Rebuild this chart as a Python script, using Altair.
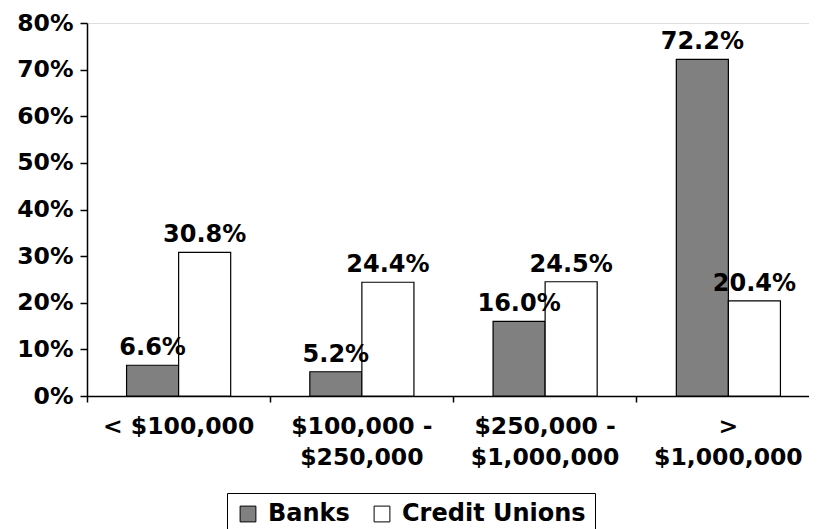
import altair as alt
import pandas as pd

categories = ["< $100,000", "$100,000 -|$250,000", "$250,000 -|$1,000,000", ">|$1,000,000"]
series = ["Banks", "Credit Unions"]
banks = [6.6, 5.2, 16.0, 72.2]
credit_unions = [30.8, 24.4, 24.5, 20.4]
y_ticks = [0, 10, 20, 30, 40, 50, 60, 70, 80]

rows = []
for c, b, cu in zip(categories, banks, credit_unions):
    rows.append({"cat": c, "series": "Banks", "value": b})
    rows.append({"cat": c, "series": "Credit Unions", "value": cu})
df = pd.DataFrame(rows)

FONT = "DejaVu Sans"

x_enc = alt.X("cat:N", sort=categories,
              scale=alt.Scale(paddingInner=0, paddingOuter=0, range=[0, 733]),
              axis=alt.Axis(title=None, labelAngle=0, bandPosition=0,
                            labelExpr="split(datum.label, '|')",
                            labelFontSize=23.5, labelFontWeight="bold", labelFont=FONT,
                            labelColor="black", labelLineHeight=31, labelPadding=12,
                            tickSize=6, tickColor="black", tickWidth=1.5,
                            domainColor="black", domainWidth=1.5, grid=False,
                            labelBaseline="top"))
xo_enc = alt.XOffset("series:N", sort=series,
                     scale=alt.Scale(paddingInner=0, paddingOuter=0.76))
y_enc = alt.Y("value:Q", scale=alt.Scale(domain=[0, 80], nice=False),
              axis=alt.Axis(title=None, values=y_ticks, labelExpr="datum.value + '%'",
                            labelFontSize=23.5, labelFontWeight="bold", labelFont=FONT,
                            labelColor="black", labelPadding=7,
                            tickSize=7, tickColor="black", tickWidth=1.5,
                            domainColor="black", domainWidth=1.5, grid=False))

bars = alt.Chart(df).mark_bar(stroke="black", strokeWidth=1.2).encode(
    x=x_enc, xOffset=xo_enc, y=y_enc,
    color=alt.Color("series:N", sort=series,
                    scale=alt.Scale(domain=series, range=["#808080", "#ffffff"]),
                    legend=alt.Legend(title=None, orient="none", legendX=140, legendY=470,
                                      direction="horizontal", symbolType="square",
                                      symbolSize=250, symbolStrokeColor="black",
                                      symbolStrokeWidth=1, labelFontSize=24,
                                      labelFontWeight="bold", labelFont=FONT,
                                      labelColor="black", labelLimit=500,
                                      columnPadding=20,
                                      labelOffset=8, padding=9, strokeColor="black",
                                      fillColor="white")),
)

labels = alt.Chart(df).transform_calculate(
    lab="format(datum.value, '.1f') + '%'"
).mark_text(baseline="alphabetic", dy=-10, fontSize=24, fontWeight="bold",
            font=FONT, color="black").encode(
    x=alt.X("cat:N", sort=categories), xOffset=alt.XOffset("series:N", sort=series),
    y="value:Q", text="lab:N",
)

chart = (bars + labels).properties(
    width=722, height=373,
    autosize=alt.AutoSizeParams(type="none"),
    padding={"left": 79, "top": 15, "right": 0, "bottom": 140},
).configure_view(stroke=None).configure(font=FONT)

chart.save("out.html", embed_options={"renderer": "svg", "actions": False})
